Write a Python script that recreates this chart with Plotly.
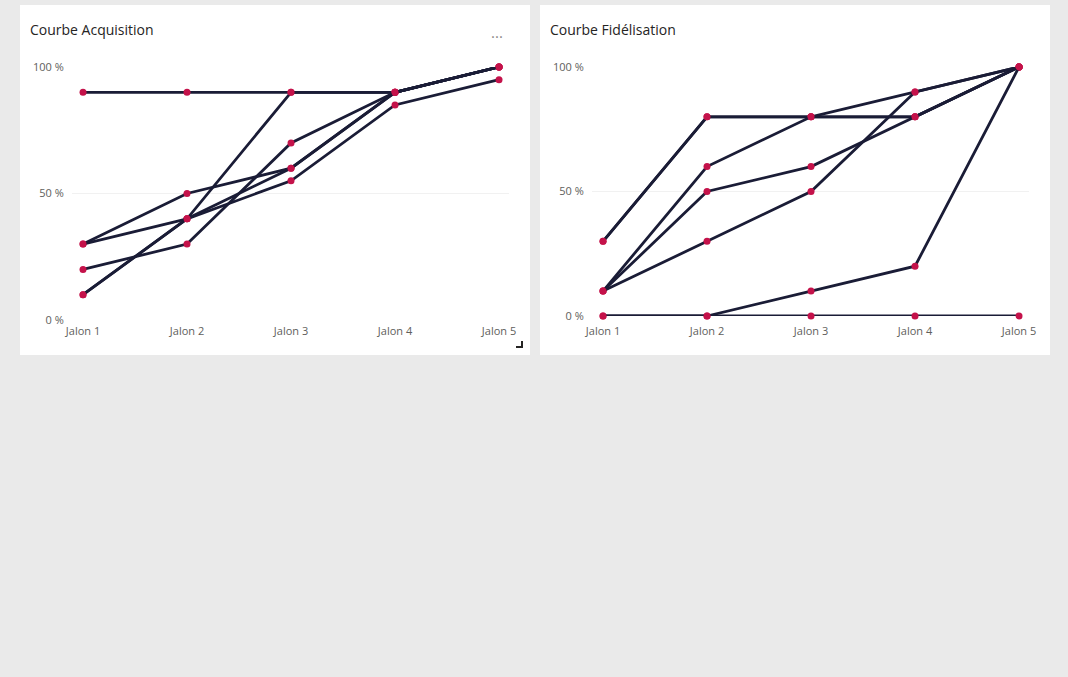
import plotly.graph_objects as go

jalons = ["Jalon 1", "Jalon 2", "Jalon 3", "Jalon 4", "Jalon 5"]

acq_1 = [0.90, 0.90, 0.90, 0.90, 1.00]
acq_2 = [0.10, 0.40, 0.90, 0.90, 1.00]
acq_3 = [0.10, 0.40, 0.60, 0.90, 1.00]
acq_4 = [0.30, 0.50, 0.60, 0.90, 1.00]
acq_5 = [0.30, 0.40, 0.55, 0.85, 0.95]
acq_6 = [0.20, 0.30, 0.70, 0.90, 1.00]

fid_1 = [0.30, 0.80, 0.80, 0.90, 1.00]
fid_2 = [0.30, 0.80, 0.80, 0.80, 1.00]
fid_3 = [0.10, 0.60, 0.80, 0.80, 1.00]
fid_4 = [0.10, 0.50, 0.60, 0.80, 1.00]
fid_5 = [0.10, 0.30, 0.50, 0.90, 1.00]
fid_6 = [0.00, 0.00, 0.10, 0.20, 1.00]
fid_7 = [0.00, 0.00, 0.00, 0.00, 0.00]

acq_series = [acq_1, acq_2, acq_3, acq_4, acq_5, acq_6]
fid_series = [fid_1, fid_2, fid_3, fid_4, fid_5, fid_6, fid_7]

y_ticks = [0, 0.5, 1.0]
y_tick_labels = ["0 %", "50 %", "100 %"]

W, H = 1068, 677
LINE = "#1A1C36"
MARK = "#C4124A"
FONT = "Segoe UI, Open Sans, sans-serif"

def px(x):
    return x / W

def py(y):
    return 1 - y / H

fig = go.Figure()

for s in acq_series:
    fig.add_trace(go.Scatter(x=jalons, y=s, mode="lines+markers", xaxis="x", yaxis="y",
                             line=dict(color=LINE, width=2.8), marker=dict(color=MARK, size=7),
                             cliponaxis=False, showlegend=False))
for s in fid_series:
    fig.add_trace(go.Scatter(x=jalons, y=s, mode="lines+markers", xaxis="x2", yaxis="y2",
                             line=dict(color=LINE, width=2.8), marker=dict(color=MARK, size=7),
                             cliponaxis=False, showlegend=False))

shapes = [
    dict(type="rect", xref="paper", yref="paper", x0=px(20), x1=px(530), y0=py(355), y1=py(5),
         fillcolor="white", line=dict(width=0), layer="below"),
    dict(type="rect", xref="paper", yref="paper", x0=px(540), x1=px(1050), y0=py(355), y1=py(5),
         fillcolor="white", line=dict(width=0), layer="below"),
    dict(type="path", xref="paper", yref="paper",
         path=f"M {px(516)} {py(347)} L {px(522)} {py(347)} L {px(522)} {py(341)}",
         line=dict(color="#252423", width=2)),
]

def xaxis_style(ticklen):
    return dict(type="category", showgrid=False, zeroline=False, showline=False,
                tickfont=dict(family=FONT, size=11, color="#605E5C"),
                ticks="outside", ticklen=ticklen, tickcolor="rgba(0,0,0,0)",
                range=[-0.106, 4.096])

ycommon = dict(range=[0, 1], tickvals=y_ticks, ticktext=y_tick_labels, showgrid=True,
               gridcolor="#F1F1F1", gridwidth=1, zeroline=False, showline=False,
               tickfont=dict(family=FONT, size=11, color="#605E5C"),
               ticks="outside", ticklen=5, tickcolor="rgba(0,0,0,0)")

fig.update_layout(
    width=W, height=H, autosize=False,
    margin=dict(l=0, r=0, t=0, b=0, pad=0, autoexpand=False),
    paper_bgcolor="#EAEAEA", plot_bgcolor="rgba(0,0,0,0)",
    shapes=shapes,
    xaxis=dict(domain=[px(72), px(509)], anchor="y", **xaxis_style(1)),
    yaxis=dict(domain=[py(320), py(67)], anchor="x", **ycommon),
    xaxis2=dict(domain=[px(592), px(1029)], anchor="y2", **xaxis_style(5)),
    yaxis2=dict(domain=[py(316), py(67)], anchor="x2", **ycommon),
    annotations=[
        dict(text="Courbe Acquisition", xref="paper", yref="paper", x=px(28), y=py(30),
             xanchor="left", yanchor="middle", showarrow=False,
             font=dict(family=FONT, size=14, color="#252423")),
        dict(text="Courbe Fidélisation", xref="paper", yref="paper", x=px(548), y=py(30),
             xanchor="left", yanchor="middle", showarrow=False,
             font=dict(family=FONT, size=14, color="#252423")),
        dict(text="...", xref="paper", yref="paper", x=px(497), y=py(32),
             xanchor="center", yanchor="middle", showarrow=False,
             font=dict(family=FONT, size=15, color="#8A8886")),
    ],
)

fig.write_html("out.html", config={"displayModeBar": False},
               post_script="document.body.style.margin='0';document.body.style.overflow='hidden';")
